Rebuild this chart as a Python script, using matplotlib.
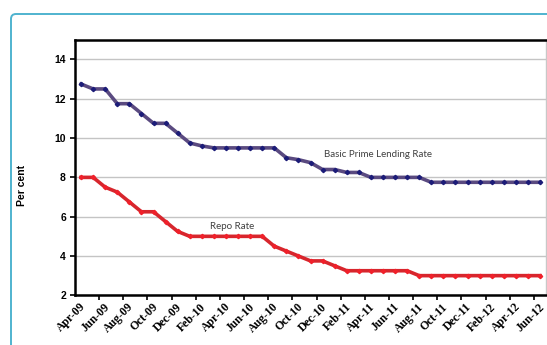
import numpy as np
import pandas as pd
import matplotlib
matplotlib.use("Agg")
import matplotlib.pyplot as plt
from matplotlib.patches import FancyBboxPatch
from matplotlib.transforms import IdentityTransform

# Monthly rates, Apr-09 .. Jun-12
months = pd.date_range("2009-04-01", "2012-06-01", freq="MS").strftime("%b-%y").tolist()

bplr = [12.75, 12.5, 12.5, 11.75, 11.75, 11.25, 10.75, 10.75, 10.25, 9.75,
        9.6, 9.5, 9.5, 9.5, 9.5, 9.5, 9.5, 9.0, 8.9, 8.75,
        8.4, 8.4, 8.25, 8.25, 8.0, 8.0, 8.0, 8.0, 8.0, 7.75,
        7.75, 7.75, 7.75, 7.75, 7.75, 7.75, 7.75, 7.75, 7.75]

repo = [8.0, 8.0, 7.5, 7.25, 6.75, 6.25, 6.25, 5.75, 5.25, 5.0,
        5.0, 5.0, 5.0, 5.0, 5.0, 5.0, 4.5, 4.25, 4.0, 3.75,
        3.75, 3.5, 3.25, 3.25, 3.25, 3.25, 3.25, 3.25, 3.0, 3.0,
        3.0, 3.0, 3.0, 3.0, 3.0, 3.0, 3.0, 3.0, 3.0]

x = np.arange(len(months))

fig = plt.figure(figsize=(5.47, 3.45), dpi=100)
fig.patch.set_facecolor("white")

# teal rounded frame around the panel
frame = FancyBboxPatch((11, -30), 620, 345 - 14 + 30,
                       boxstyle="round,pad=0,rounding_size=5",
                       transform=IdentityTransform(), facecolor="none",
                       edgecolor="#4fb3cf", linewidth=1.4)
fig.patches.append(frame)

ax = fig.add_axes([75 / 547, 1 - 295.3 / 345, 471 / 547, 255.5 / 345])

ax.plot(x, bplr, color="#5a4a80", lw=2.6, marker="D", ms=2.2,
        mfc="#1c1c78", mec="#1c1c78", zorder=3)
ax.plot(x, repo, color="#d7262d", lw=2.6, marker="D", ms=2.2,
        mfc="#f0202a", mec="#f0202a", zorder=3)

ax.set_xlim(-0.5, len(months) - 0.5)
ax.set_ylim(2, 15)
ax.set_yticks(np.arange(2, 15, 2))
ax.yaxis.grid(True, color="#c4c4c4", lw=1)
ax.set_axisbelow(True)

# tick marks between categories, labels every second month
ax.set_xticks(np.arange(1.5, len(months), 2))
ax.set_xticklabels([])
ax.set_xticks(x[::2] - 0.15, minor=True)
ax.set_xticklabels(months[::2], minor=True, rotation=45, ha="right",
                   rotation_mode="anchor", fontsize=8.5, fontweight="bold",
                   family="Liberation Serif")
ax.tick_params(axis="x", which="major", length=3.5, width=1.2, direction="out")
ax.tick_params(axis="x", which="minor", length=0, pad=4)
ax.tick_params(axis="y", length=3.5, width=1.2, direction="out", pad=3)
for lab in ax.get_yticklabels():
    lab.set_fontsize(7.5)
    lab.set_fontweight("bold")
    lab.set_family("Liberation Sans")

for side in ("left", "top", "bottom"):
    ax.spines[side].set_color("black")
    ax.spines[side].set_linewidth(1.8)
ax.spines["right"].set_color("#c8c8c8")
ax.spines["right"].set_linewidth(1)

ax.text(20.1, 9.15, "Basic Prime Lending Rate", fontsize=7,
        family="Lato", color="#404040", va="center", ha="left")
ax.text(10.65, 5.5, "Repo Rate", fontsize=7,
        family="Lato", color="#404040", va="center", ha="left")

fig.text(22 / 547, 1 - 185 / 345, "Per cent", rotation=90, fontsize=7.5,
         fontweight="bold", family="Liberation Sans", ha="center", va="center")

fig.savefig("out.png", dpi=100)
